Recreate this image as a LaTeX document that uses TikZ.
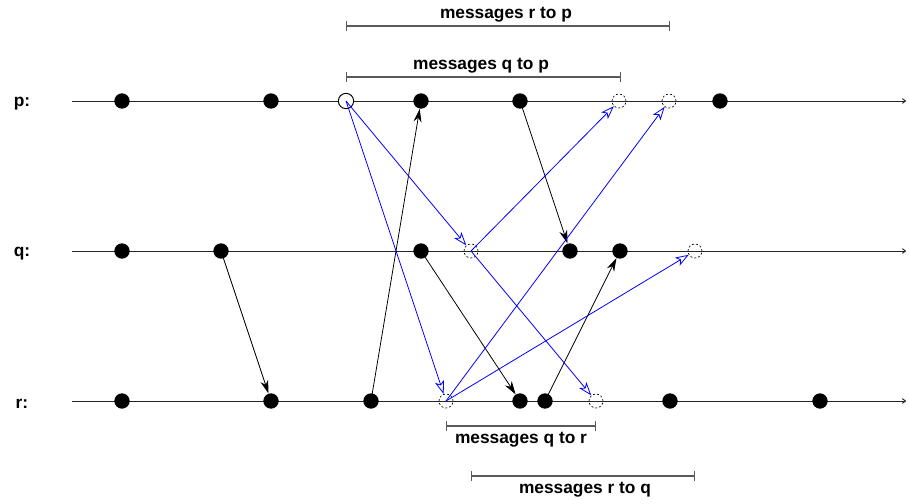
\documentclass[tikz,border=0pt]{standalone}
\usepackage{fontspec}
\setmainfont{Liberation Sans}
\usetikzlibrary{arrows.meta}
\begin{document}
\begin{tikzpicture}[x=0.75pt,y=-0.75pt,
  ev/.style={circle,fill=black,inner sep=0pt,minimum size=11.5pt},
  hol/.style={circle,draw=black,line width=0.7pt,inner sep=0pt,minimum size=11.5pt},
  dsh/.style={circle,draw=black,dashed,dash pattern=on 1.5pt off 1.5pt,line width=0.5pt,inner sep=0pt,minimum size=10.5pt},
  tl/.style={line width=0.7pt,draw=black!85,-{To[length=3pt,width=4pt]}},
  msg/.style={line width=0.6pt,-{Stealth[length=10pt,width=6pt]}},
  bmsg/.style={line width=0.6pt,blue,-{Stealth[open,length=10pt,width=7pt,inset=2.5pt]}},
  brk/.style={line width=1pt,draw=black!65,{|[width=7pt]}-{|[width=7pt]}},
  lab/.style={font=\bfseries\fontsize{13}{15}\selectfont},
]
\useasboundingbox (0,0) rectangle (909,503);
% process labels
\node[lab] (lp) at (22,104) {p:};
\node[lab] (lq) at (22,254) {q:};
\node[lab] (lr) at (22,404) {r:};
% timelines
\coordinate (ps) at (72,101); \coordinate (pe) at (906,101);
\coordinate (qs) at (72,251); \coordinate (qe) at (906,251);
\coordinate (rs) at (72,401); \coordinate (re) at (906,401);
\draw[tl] (ps) -- (pe);
\draw[tl] (qs) -- (qe);
\draw[tl] (rs) -- (re);
% p events
\node[ev] (p1) at (122,101) {};
\node[ev] (p2) at (271,101) {};
\node[hol,fill=white] (p3) at (346,101) {};
\node[ev] (p4) at (421,101) {};
\node[ev] (p5) at (520,101) {};
\node[dsh] (p6) at (619,101) {};
\node[dsh] (p7) at (669,101) {};
\node[ev] (p8) at (720,101) {};
% q events
\node[ev] (q1) at (122,251) {};
\node[ev] (q2) at (221,251) {};
\node[ev] (q3) at (421,251) {};
\node[dsh] (q4) at (471,251) {};
\node[ev] (q5) at (570,251) {};
\node[ev] (q6) at (620,251) {};
\node[dsh] (q7) at (695,251) {};
% r events
\node[ev] (r1) at (122,401) {};
\node[ev] (r2) at (271,401) {};
\node[ev] (r3) at (371,401) {};
\node[dsh] (r4) at (446,401) {};
\node[ev] (r5) at (520,401) {};
\node[ev] (r6) at (545,401) {};
\node[dsh] (r7) at (596,401) {};
\node[ev] (r8) at (670,401) {};
\node[ev] (r9) at (820,401) {};
% black messages
\draw[msg] (q2.center) -- (r2);
\draw[msg] (r3.center) -- (p4);
\draw[msg] (p5.center) -- (q5);
\draw[msg] (q3.center) -- (r5);
\draw[msg] (r6.center) -- (q6);
% blue messages
\draw[bmsg] (p3.center) -- (q4);
\draw[bmsg] (p3.center) -- (r4);
\draw[bmsg] (q4.center) -- (p6);
\draw[bmsg] (q4.center) -- (r7);
\draw[bmsg] (r4.center) -- (p7);
\draw[bmsg] (r4.center) -- (q7);
% brackets
\coordinate (b1a) at (346,26); \coordinate (b1b) at (670,26);
\draw[brk] (b1a) -- (b1b);
\node[lab] (t1) at (506,15) {messages r to p};
\coordinate (b2a) at (346,77); \coordinate (b2b) at (621,77);
\draw[brk] (b2a) -- (b2b);
\node[lab] (t2) at (481,66) {messages q to p};
\coordinate (b3a) at (446,426); \coordinate (b3b) at (596,426);
\draw[brk] (b3a) -- (b3b);
\node[lab] (t3) at (521,440) {messages q to r};
\coordinate (b4a) at (471,476); \coordinate (b4b) at (695,476);
\draw[brk] (b4a) -- (b4b);
\node[lab] (t4) at (585,490) {messages r to q};
\end{tikzpicture}
\end{document}
